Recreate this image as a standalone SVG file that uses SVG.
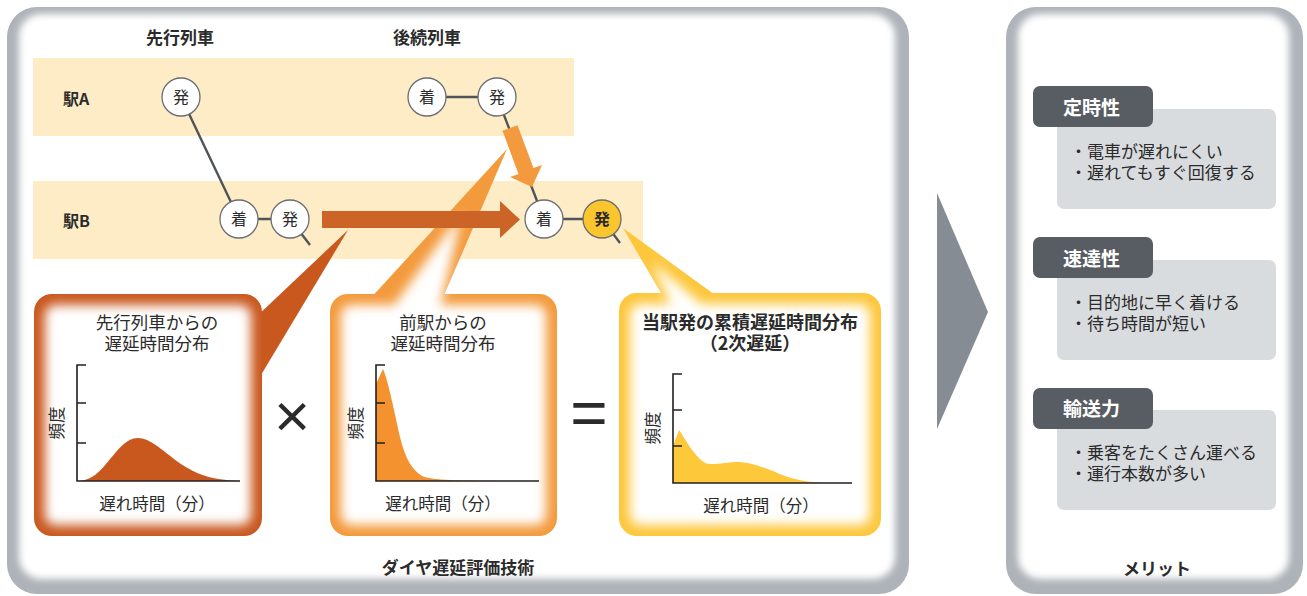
<svg xmlns="http://www.w3.org/2000/svg" width="1307" height="596" viewBox="0 0 1307 596">
<defs>
<filter id="soft" x="-10%" y="-10%" width="120%" height="120%"><feGaussianBlur stdDeviation="3.5"/></filter>
<filter id="glow" x="-20%" y="-20%" width="140%" height="140%"><feGaussianBlur stdDeviation="5.5"/></filter>
<style>
.t{font-family:"Noto Sans CJK JP","Noto Sans",sans-serif;fill:#2b2b2b}
.b{font-weight:bold}
.c{text-anchor:middle}
.band{fill:#fdecc6}
.ln{stroke:#4f5459;stroke-width:2.4;fill:none}
.nd{fill:#fff;stroke:#6a6e72;stroke-width:1.3}
.ax{stroke:#231f20;stroke-width:1.6;fill:none}
.tab{fill:#575d63}
.mbox{fill:#d9dcdf}
</style>
</defs>

<!-- panels -->
<g id="panel-left">
<rect x="7" y="7" width="902" height="587" rx="30" fill="#aeb3b9"/>
<rect x="19" y="14" width="876" height="565" rx="22" fill="#fff" filter="url(#soft)"/>
</g>
<g id="panel-right">
<rect x="1006" y="7" width="297" height="587" rx="30" fill="#aeb3b9"/>
<rect x="1018" y="14" width="271" height="565" rx="22" fill="#fff" filter="url(#soft)"/>
</g>

<!-- station bands -->
<g id="band-a"><rect class="band" x="33" y="58" width="541" height="78"/></g>
<g id="band-b"><rect class="band" x="33" y="181" width="610" height="78"/></g>

<text class="t b c" x="180" y="44" font-size="17">先行列車</text>
<text class="t b c" x="427" y="44" font-size="17">後続列車</text>
<text class="t b" x="63" y="105" font-size="16">駅A</text>
<text class="t b" x="63" y="227" font-size="16">駅B</text>

<!-- connectors -->
<g id="connectors">
<line class="ln" x1="181" y1="97" x2="239" y2="219"/>
<line class="ln" x1="427" y1="97" x2="497" y2="97"/>
<line class="ln" x1="497" y1="97" x2="544" y2="219"/>
<line class="ln" x1="239" y1="219" x2="290" y2="219"/>
<line class="ln" x1="290" y1="219" x2="310" y2="245"/>
<line class="ln" x1="544" y1="219" x2="602" y2="219"/>
<line class="ln" x1="602" y1="219" x2="620" y2="243"/>
</g>

<!-- callout box 1 -->
<g id="box1">
<polygon points="348,230 255,318 255,385" fill="#c9581f"/>
<rect x="34" y="294" width="228" height="242" rx="18" fill="#c9581f"/>
<rect x="45" y="305" width="206" height="220" rx="10" fill="#fff" filter="url(#glow)"/>
<text class="t c" x="157" y="329" font-size="17.5">先行列車からの</text>
<text class="t c" x="157" y="350" font-size="17.5">遅延時間分布</text>
<path d="M77,481 C88,481 96,476 106,464 C118,450 126,438 138,438 C150,438 162,450 178,462 C198,476 215,480 240,481 Z" fill="#c9581f"/>
<path class="ax" d="M86,365 H77 V481 H240 M77,403 H86 M77,443 H86"/>
<text class="t c" transform="translate(63,423) rotate(-90)" font-size="16.5">頻度</text>
<text class="t c" x="157" y="510" font-size="16.5">遅れ時間（分）</text>
</g>

<!-- callout box 2 -->
<g id="box2">
<polygon points="507,149 369,300 442,300" fill="#f39a3d"/>
<rect x="330" y="294" width="227" height="242" rx="18" fill="#f39a3d"/>
<g filter="url(#glow)" fill="#fff">
<rect x="341" y="305" width="205" height="220" rx="10"/>
<polygon points="462,212 392,308 440,308"/>
</g>
<text class="t c" x="443" y="329" font-size="17.5">前駅からの</text>
<text class="t c" x="443" y="350" font-size="17.5">遅延時間分布</text>
<path d="M376,481 V384 L383,369 C388,380 394,410 400,437 C405,458 412,470 422,476 C432,480 450,481 539,481 Z" fill="#f3922e"/>
<path class="ax" d="M385,365 H376 V481 H539 M376,403 H385 M376,443 H385"/>
<text class="t c" transform="translate(362,423) rotate(-90)" font-size="16.5">頻度</text>
<text class="t c" x="443" y="510" font-size="16.5">遅れ時間（分）</text>
</g>

<!-- callout box 3 -->
<g id="box3">
<polygon points="623,228 665,300 722,300" fill="#fdc73c"/>
<rect x="619" y="293" width="262" height="243" rx="18" fill="#fdc73c"/>
<g filter="url(#glow)" fill="#fff">
<rect x="630" y="304" width="240" height="221" rx="10"/>
<polygon points="652,262 672,307 705,307"/>
</g>
<text class="t b c" x="750" y="329" font-size="18">当駅発の累積遅延時間分布</text>
<text class="t b c" x="750" y="350" font-size="18">（2次遅延）</text>
<path d="M673,483 V446 L679,430 C686,440 694,456 705,463 C712,466 725,462 740,462 C755,463 770,470 785,476 C800,481 815,483 830,483 Z" fill="#fdc83a"/>
<path class="ax" d="M682,374 H673 V483 H852 M673,410 H682 M673,446 H682"/>
<text class="t c" transform="translate(659,428) rotate(-90)" font-size="16.5">頻度</text>
<text class="t c" x="761" y="512" font-size="16.5">遅れ時間（分）</text>
</g>

<!-- arrows -->
<g id="arrows">
<polygon points="322,211 500,211 500,201 520,219.5 500,238 500,228 322,228" fill="#cc6428"/>
<polygon points="517.5,125.2 502.5,130.8 518.5,174 510,177 532,187 542,165 533.5,168" fill="#f49a3e"/>
</g>

<!-- operators -->
<text class="t c" x="292" y="437" font-size="62" font-family="Liberation Sans" style="font-family:'Liberation Sans',sans-serif">×</text>
<text class="t c" x="589" y="435" font-size="64" style="font-family:'Liberation Sans',sans-serif">=</text>

<!-- nodes -->
<g id="node-a-dep1"><circle class="nd" cx="181" cy="97" r="19"/><text class="t c" x="181" y="103" font-size="16">発</text></g>
<g id="node-a-arr2"><circle class="nd" cx="427" cy="97" r="19"/><text class="t c" x="427" y="103" font-size="16">着</text></g>
<g id="node-a-dep2"><circle class="nd" cx="497" cy="97" r="19"/><text class="t c" x="497" y="103" font-size="16">発</text></g>
<g id="node-b-arr1"><circle class="nd" cx="239" cy="219" r="19"/><text class="t c" x="239" y="225" font-size="16">着</text></g>
<g id="node-b-dep1"><circle class="nd" cx="290" cy="219" r="19"/><text class="t c" x="290" y="225" font-size="16">発</text></g>
<g id="node-b-arr2"><circle class="nd" cx="544" cy="219" r="19"/><text class="t c" x="544" y="225" font-size="16">着</text></g>
<g id="node-b-dep2"><circle class="nd" cx="602" cy="219" r="19" style="fill:#fbc52e"/><text class="t b c" x="602" y="225" font-size="16">発</text></g>

<text class="t b c" x="458" y="574" font-size="17">ダイヤ遅延評価技術</text>

<!-- chevron -->
<g id="chevron"><polygon points="937,193 988,312 937,429" fill="#868c94"/></g>

<!-- merits -->
<g id="merit1">
<rect class="mbox" x="1057" y="109" width="219" height="100" rx="7"/>
<rect class="tab" x="1033" y="86" width="120" height="41" rx="7"/>
<text class="t b" x="1063" y="115" font-size="19" style="fill:#fff">定時性</text>
<text class="t" x="1070" y="158" font-size="17">・電車が遅れにくい</text>
<text class="t" x="1070" y="179" font-size="17">・遅れてもすぐ回復する</text>
</g>
<g id="merit2">
<rect class="mbox" x="1057" y="260" width="219" height="100" rx="7"/>
<rect class="tab" x="1033" y="237" width="120" height="41" rx="7"/>
<text class="t b" x="1063" y="266" font-size="19" style="fill:#fff">速達性</text>
<text class="t" x="1070" y="309" font-size="17">・目的地に早く着ける</text>
<text class="t" x="1070" y="330" font-size="17">・待ち時間が短い</text>
</g>
<g id="merit3">
<rect class="mbox" x="1057" y="410" width="219" height="100" rx="7"/>
<rect class="tab" x="1033" y="388" width="120" height="41" rx="7"/>
<text class="t b" x="1063" y="416" font-size="19" style="fill:#fff">輸送力</text>
<text class="t" x="1070" y="459" font-size="17">・乗客をたくさん運べる</text>
<text class="t" x="1070" y="480" font-size="17">・運行本数が多い</text>
</g>
<text class="t b c" x="1157" y="575" font-size="17">メリット</text>
</svg>
